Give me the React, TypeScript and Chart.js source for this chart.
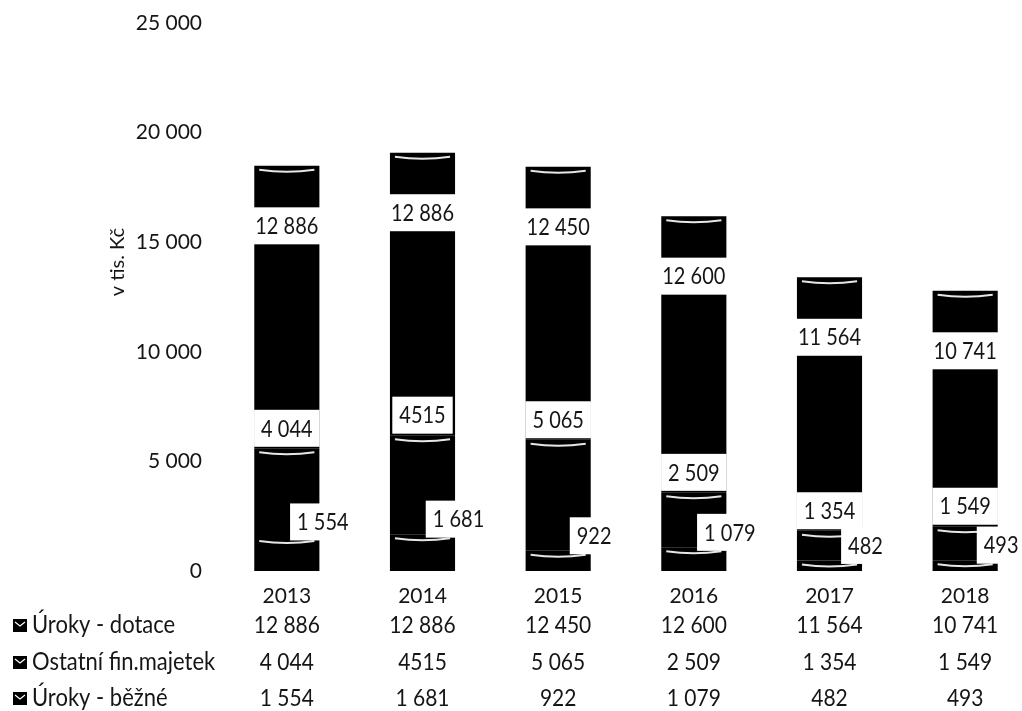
import React, { useEffect, useRef } from "react";
import { Chart, registerables } from "chart.js";

Chart.register(...registerables);

const categories = ["2013", "2014", "2015", "2016", "2017", "2018"];
const seriesNames = ["Úroky - běžné", "Ostatní fin.majetek", "Úroky - dotace"];
const urokyBezne = [1554, 1681, 922, 1079, 482, 493];
const ostatniFin = [4044, 4515, 5065, 2509, 1354, 1549];
const urokyDotace = [12886, 12886, 12450, 12600, 11564, 10741];
const urokyBezneText = ["1 554", "1 681", "922", "1 079", "482", "493"];
const ostatniFinText = ["4 044", "4515", "5 065", "2 509", "1 354", "1 549"];
const urokyDotaceText = ["12 886", "12 886", "12 450", "12 600", "11 564", "10 741"];
const yMax = 25000;
const yStep = 5000;
const yTitle = "v tis. Kč";

const FONT = "Lato";
const TEXT = "#151515";

Chart.defaults.font.family = FONT;

function fmt(v: number): string {
  const s = String(Math.round(v));
  return s.replace(/\B(?=(\d{3})+(?!\d))/g, " ");
}

// draws text slightly stretched vertically, like the scanned original
function drawText(ctx: CanvasRenderingContext2D, t: string, x: number, y: number) {
  ctx.save();
  ctx.translate(x, y);
  ctx.scale(1, 1.12);
  ctx.fillText(t, 0, 0);
  ctx.restore();
}

const barDecorPlugin = {
  id: "barDecor",
  afterDatasetsDraw(chart: any) {
    const ctx = chart.ctx;
    ctx.save();
    ctx.strokeStyle = "rgba(255,255,255,0.9)";
    ctx.lineWidth = 2;
    chart.data.datasets.forEach((_ds: any, di: number) => {
      const meta = chart.getDatasetMeta(di);
      meta.data.forEach((el: any) => {
        const half = el.width / 2;
        const top = Math.min(el.y, el.base);
        const h = Math.abs(el.base - el.y);
        if (h < 10) return;
        ctx.beginPath();
        ctx.moveTo(el.x - half + 5, top + 4);
        ctx.quadraticCurveTo(el.x, top + 8, el.x + half - 5, top + 4);
        ctx.stroke();
      });
    });
    ctx.restore();
  },
};

const labelPlugin = {
  id: "segLabels",
  afterDatasetsDraw(chart: any) {
    const ctx = chart.ctx;
    const texts = [urokyBezneText, ostatniFinText, urokyDotaceText];
    ctx.save();
    ctx.font = `20px ${FONT}`;
    ctx.textAlign = "center";
    ctx.textBaseline = "middle";
    chart.data.datasets.forEach((_ds: any, di: number) => {
      const meta = chart.getDatasetMeta(di);
      meta.data.forEach((el: any, i: number) => {
        const t = texts[di][i];
        const w = ctx.measureText(t).width + 14;
        const h = 37;
        let cx = el.x;
        let cy = el.y;
        if (di === 2) {
          cy = el.y + 60;
        } else if (di === 1) {
          cy = el.y - 20;
        } else {
          cx = el.x + 36;
          cy = el.y - 15;
        }
        ctx.fillStyle = "#ffffff";
        ctx.fillRect(cx - w / 2, cy - h / 2, w, h);
        ctx.fillStyle = TEXT;
        drawText(ctx, t, cx, cy + 1);
      });
    });
    ctx.restore();
  },
};

const tablePlugin = {
  id: "dataTable",
  afterDraw(chart: any) {
    const ctx = chart.ctx;
    const xs = chart.scales.x;
    const rows = [
      { name: seriesNames[2], text: urokyDotaceText },
      { name: seriesNames[1], text: ostatniFinText },
      { name: seriesNames[0], text: urokyBezneText },
    ];
    const rowY = [625, 662, 698];
    ctx.save();
    ctx.textBaseline = "middle";
    rows.forEach((r, ri) => {
      const y = rowY[ri];
      ctx.fillStyle = "#000";
      ctx.fillRect(13, y - 6, 14, 13);
      ctx.strokeStyle = "#fff";
      ctx.lineWidth = 1.2;
      ctx.beginPath();
      ctx.moveTo(15, y - 3);
      ctx.lineTo(20, y + 1);
      ctx.lineTo(25, y - 3);
      ctx.stroke();
      ctx.fillStyle = TEXT;
      ctx.textAlign = "left";
      ctx.font = `22px ${FONT}`;
      drawText(ctx, r.name, 32, y);
      ctx.textAlign = "center";
      ctx.font = `21px ${FONT}`;
      r.text.forEach((t, i) => {
        drawText(ctx, t, xs.getPixelForValue(i), y);
      });
    });
    // y axis title
    ctx.font = `20px ${FONT}`;
    ctx.translate(118, 262);
    ctx.rotate(-Math.PI / 2);
    ctx.textAlign = "center";
    ctx.fillText(yTitle, 0, 0);
    ctx.restore();
  },
};

export default function App() {
  const ref = useRef<HTMLCanvasElement>(null);
  useEffect(() => {
    document.body.style.margin = "0";
    const chart = new Chart(ref.current!, {
      type: "bar",
      data: {
        labels: categories,
        datasets: [
          { label: seriesNames[0], data: urokyBezne, backgroundColor: "#000" },
          { label: seriesNames[1], data: ostatniFin, backgroundColor: "#000" },
          { label: seriesNames[2], data: urokyDotace, backgroundColor: "#000" },
        ],
      },
      options: {
        animation: false,
        responsive: true,
        maintainAspectRatio: false,
        layout: { padding: { left: 0, right: 7, top: 23, bottom: 104 } },
        datasets: { bar: { categoryPercentage: 1, barPercentage: 0.48 } },
        plugins: { legend: { display: false }, tooltip: { enabled: false } },
        scales: {
          x: {
            stacked: true,
            grid: { display: false },
            border: { display: false },
            ticks: { color: TEXT, font: { family: FONT, size: 21 }, padding: 5 },
            afterFit: (s: any) => {
              s.height = 36;
            },
          },
          y: {
            stacked: true,
            min: 0,
            max: yMax,
            grid: { display: false },
            border: { display: false },
            ticks: {
              stepSize: yStep,
              color: TEXT,
              font: { family: FONT, size: 21 },
              padding: 9,
              callback: (v: any) => fmt(Number(v)),
            },
            afterFit: (s: any) => {
              s.width = 219;
            },
          },
        },
      },
      plugins: [barDecorPlugin, labelPlugin, tablePlugin],
    });
    return () => chart.destroy();
  }, []);
  return (
    <div style={{ width: 1022, height: 711, overflow: "hidden", background: "#fff" }}>
      <div style={{ width: 1040, height: 711, position: "relative" }}>
        <canvas ref={ref} />
      </div>
    </div>
  );
}
